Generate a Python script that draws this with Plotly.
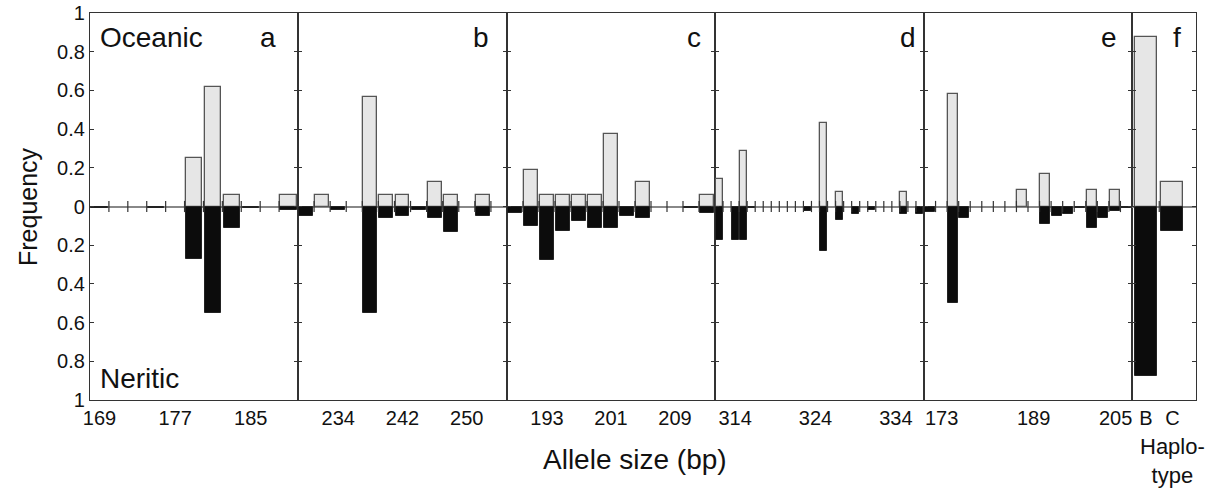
import numpy as np
import plotly.graph_objects as go

# ---------------- data ----------------
# panel a (dinucleotide, step 2)
alleles_a = list(range(169, 190, 2))
oce_a = [0, 0, 0, 0, 0, 0.25, 0.62, 0.06, 0, 0, 0.06]
ner_a = [0.01, 0, 0, 0.01, 0, 0.27, 0.55, 0.11, 0.01, 0, 0.02]
ticks_a = [169, 177, 185]

# panel b
alleles_b = list(range(230, 255, 2))
oce_b = [0, 0.06, 0, 0, 0.565, 0.06, 0.06, 0, 0.125, 0.06, 0, 0.06, 0]
ner_b = [0.05, 0, 0.02, 0, 0.55, 0.06, 0.05, 0.02, 0.06, 0.13, 0, 0.05, 0]
ticks_b = [234, 242, 250]

# panel c
alleles_c = list(range(189, 214, 2))
oce_c = [0, 0.19, 0.06, 0.06, 0.06, 0.06, 0.375, 0, 0.125, 0, 0, 0, 0.06]
ner_c = [0.035, 0.10, 0.275, 0.125, 0.075, 0.11, 0.11, 0.05, 0.06, 0, 0, 0.01, 0.035]
ticks_c = [193, 201, 209]

# panel d (step 1)
alleles_d = list(range(312, 338))
oce_d = [0.14, 0, 0, 0.285, 0, 0, 0, 0, 0, 0, 0, 0, 0, 0.43, 0, 0.075, 0, 0, 0, 0, 0, 0, 0, 0.075, 0, 0]
ner_d = [0.175, 0, 0.175, 0.175, 0.01, 0, 0, 0, 0, 0, 0, 0.025, 0, 0.23, 0, 0.07, 0, 0.04, 0, 0.02, 0, 0, 0, 0.04, 0, 0.04]
ticks_d = [314, 324, 334]

# panel e
alleles_e = list(range(171, 206, 2))
oce_e = [0, 0, 0.58, 0, 0, 0, 0, 0, 0.085, 0, 0.17, 0, 0, 0, 0.085, 0, 0.085, 0]
ner_e = [0.03, 0, 0.50, 0.06, 0, 0, 0, 0, 0, 0, 0.09, 0.05, 0.04, 0.01, 0.11, 0.06, 0.025, 0.01]
ticks_e = [173, 189, 205]

# panel f (haplotypes)
haplotypes = ["B", "C"]
oce_f = [0.875, 0.125]
ner_f = [0.875, 0.125]

panel_letters = ["a", "b", "c", "d", "e", "f"]
ytick_vals = [-1, -0.8, -0.6, -0.4, -0.2, 0, 0.2, 0.4, 0.6, 0.8, 1]
ytick_text = ["1", "0.8", "0.6", "0.4", "0.2", "0", "0.2", "0.4", "0.6", "0.8", "1"]

# ---------------- layout constants ----------------
W, H = 1208, 490
ML, MR, MT, MB = 90, 12, 13, 90
PW = W - ML - MR
PH = H - MT - MB
edges_px = [90, 298, 507, 715, 924, 1132, 1196]
FONT = "Liberation Sans, Arial, sans-serif"
LIGHT = "#e6e6e6"
DARK = "#0c0c0c"
OUTLINE = "#555555"
TXT = "#111111"


def px2x(px):
    return (px - ML) / PW


def px2y(py):
    return (MT + PH - py) / PH


def nz(vals, sign=1):
    return [sign * v if v else None for v in vals]


panels = [
    (alleles_a, oce_a, ner_a, ticks_a, 2),
    (alleles_b, oce_b, ner_b, ticks_b, 2),
    (alleles_c, oce_c, ner_c, ticks_c, 2),
    (alleles_d, oce_d, ner_d, ticks_d, 1),
    (alleles_e, oce_e, ner_e, ticks_e, 2),
]

fig = go.Figure()
layout = {}
annotations = []
tickfont = dict(family=FONT, size=20, color=TXT)

for i, (al, oc, ne, tk, step) in enumerate(panels):
    n = i + 1
    xa = "x" if n == 1 else f"x{n}"
    ya = "y" if n == 1 else f"y{n}"
    w = 0.87 * step
    fig.add_trace(go.Bar(x=al, y=nz(oc), width=w, xaxis=xa, yaxis=ya,
                         marker=dict(color=LIGHT, line=dict(color=OUTLINE, width=1.3)),
                         showlegend=False))
    fig.add_trace(go.Bar(x=al, y=nz(ne, -1), width=w, xaxis=xa, yaxis=ya,
                         marker=dict(color=DARK, line=dict(color="#222222", width=1)),
                         showlegend=False))
    bounds = np.arange(al[0] - step / 2, al[-1] + step / 2 + 1e-9, step)[1:-1]
    fig.add_trace(go.Scatter(x=bounds, y=[0] * len(bounds), mode="markers", xaxis=xa, yaxis=ya,
                             marker=dict(symbol="line-ns-open", size=8, color="#333333",
                                         line=dict(color="#333333", width=1.2)),
                             showlegend=False, hoverinfo="skip"))
    ax = dict(
        domain=[px2x(edges_px[i]), px2x(edges_px[i + 1])],
        range=[al[0] - step / 2, al[-1] + step / 2],
        anchor=ya, tickvals=tk, ticktext=[str(t) for t in tk],
        ticks="", showgrid=False, zeroline=False, automargin=False,
        showline=True, mirror=True, linecolor="#333333", linewidth=1.2,
        tickfont=tickfont,
    )
    if n == 5:
        # last label is nudged left in the original so it does not collide with "B"
        ax["tickvals"] = []
        for j, t in enumerate(tk):
            annotations.append(dict(text=str(t), x=t, xref=xa, y=px2y(418), yref="paper",
                                    showarrow=False, xanchor="center", yanchor="middle",
                                    xshift=(-11 if j == len(tk) - 1 else 0), font=tickfont))
    layout[f"xaxis{'' if n == 1 else n}"] = ax

# panel f
fig.add_trace(go.Bar(x=[0, 1], y=oce_f, width=0.83, xaxis="x6", yaxis="y6",
                     marker=dict(color=LIGHT, line=dict(color=OUTLINE, width=1.3)),
                     showlegend=False))
fig.add_trace(go.Bar(x=[0, 1], y=[-v for v in ner_f], width=0.83, xaxis="x6", yaxis="y6",
                     marker=dict(color=DARK, line=dict(color="#222222", width=1)),
                     showlegend=False))
fig.add_trace(go.Scatter(x=[0.5], y=[0], mode="markers", xaxis="x6", yaxis="y6",
                         marker=dict(symbol="line-ns-open", size=8, color="#333333",
                                     line=dict(color="#333333", width=1.2)),
                         showlegend=False, hoverinfo="skip"))
layout["xaxis6"] = dict(
    domain=[px2x(edges_px[5]), px2x(edges_px[6])],
    range=[-0.53, 1.89], anchor="y6", tickvals=[0, 1], ticktext=haplotypes,
    ticks="", showgrid=False, zeroline=False, automargin=False,
    showline=True, mirror=True, linecolor="#333333", linewidth=1.2,
    tickfont=tickfont,
)

for n in range(1, 7):
    key = "yaxis" if n == 1 else f"yaxis{n}"
    xa = "x" if n == 1 else f"x{n}"
    layout[key] = dict(
        range=[-1, 1], anchor=xa, domain=[0, 1], automargin=False,
        tickvals=ytick_vals, ticktext=ytick_text,
        showticklabels=(n == 1),
        ticks="inside", ticklen=4, tickcolor="#333333", mirror="ticks",
        showline=True, linecolor="#333333", linewidth=1.2,
        showgrid=False, zeroline=True, zerolinecolor="#888888", zerolinewidth=1.5,
        tickfont=dict(family=FONT, size=20, color=TXT),
    )
    if n > 1:
        layout[key]["matches"] = "y"

letter_px = [268, 481, 694, 908, 1109, 1177]
big = dict(family=FONT, size=28, color=TXT)
for L, px in zip(panel_letters, letter_px):
    annotations.append(dict(text=L, x=px2x(px), y=px2y(38), xref="paper", yref="paper",
                            showarrow=False, font=big, xanchor="center", yanchor="middle"))
annotations += [
    dict(text="Oceanic", x=px2x(98), y=px2y(38), xref="paper", yref="paper", showarrow=False,
         xanchor="left", yanchor="middle", font=big),
    dict(text="Neritic", x=px2x(98), y=px2y(378), xref="paper", yref="paper", showarrow=False,
         xanchor="left", yanchor="middle", font=big),
    dict(text="Frequency", x=px2x(28), y=px2y(207), xref="paper", yref="paper", showarrow=False,
         textangle=-90, xanchor="center", yanchor="middle",
         font=dict(family=FONT, size=25, color=TXT)),
    dict(text="Allele size (bp)", x=px2x(635), y=px2y(459), xref="paper", yref="paper",
         showarrow=False, xanchor="center", yanchor="middle", font=big),
    dict(text="Haplo-<br>type", x=px2x(1172), y=px2y(461), xref="paper", yref="paper",
         showarrow=False, xanchor="center", yanchor="middle",
         font=dict(family=FONT, size=22, color=TXT)),
]

fig.update_layout(
    width=W, height=H,
    margin=dict(l=ML, r=MR, t=MT, b=MB, autoexpand=False),
    paper_bgcolor="white", plot_bgcolor="white",
    barmode="relative", bargap=0,
    annotations=annotations,
    **layout,
)

fig.write_html("out.html", config={"displayModeBar": False},
               post_script="document.body.style.margin='0';document.body.style.overflow='hidden';")
